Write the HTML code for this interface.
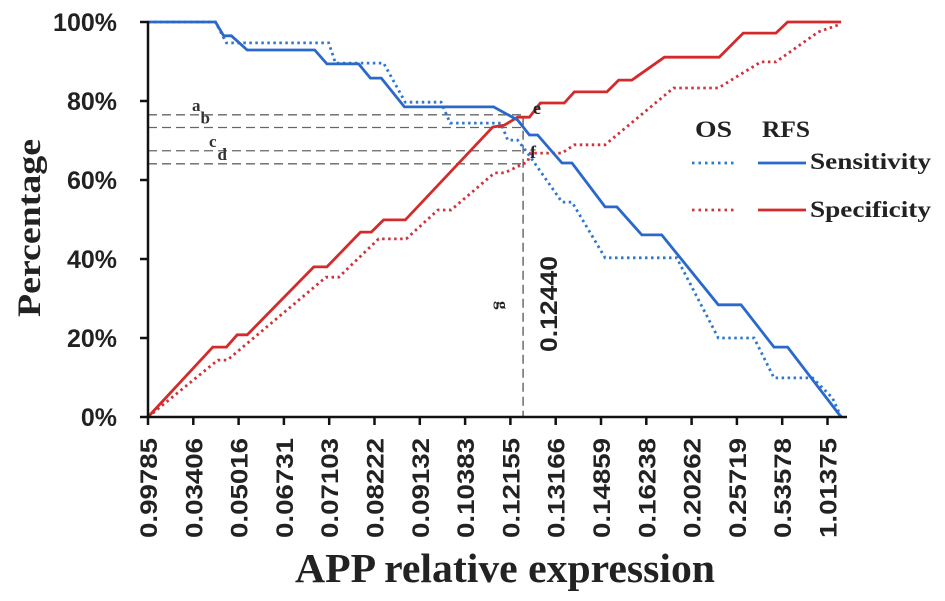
<!DOCTYPE html>
<html><head><meta charset="utf-8">
<style>
html,body{margin:0;padding:0;background:#fff;}
svg{display:block;}
</style></head>
<body>
<svg id="chart" width="945" height="601" viewBox="0 0 945 601" xmlns="http://www.w3.org/2000/svg">
  <g id="plot"></g>
</svg>
<script>
const categories = ["0.99785","0.03406","0.05016","0.06731","0.07103","0.08222","0.09132","0.10383","0.12155","0.13166","0.14859","0.16238","0.20262","0.25719","0.53578","1.01375"];
const yTicks = [0,20,40,60,80,100];
const rfsSensX = [0,1.49,1.67,1.84,2.19,3.68,3.95,4.65,4.91,5.15,5.66,7.63,8.16,8.42,8.60,9.14,9.36,10.09,10.35,10.90,11.34,12.59,13.09,13.82,14.12,15.3];
const rfsSensY = [100,100,96.5,96.5,92.9,92.9,89.4,89.4,85.8,85.8,78.5,78.5,75.2,71.4,71.4,64.3,64.3,53.2,53.2,46.1,46.1,28.4,28.4,17.7,17.7,0];
const osSensX = [0,1.49,1.73,3.99,4.14,5.20,5.68,6.47,6.67,7.79,7.94,8.16,8.38,9.14,9.36,10.09,11.67,12.59,13.38,13.82,14.67,15.11,15.3];
const osSensY = [100,100,94.7,94.7,89.6,89.6,79.7,79.7,74.4,74.4,70.1,70.1,66.8,54.4,54.4,40.3,40.3,20.0,20.0,9.9,9.9,4.8,0];
const rfsSpecX = [0,1.43,1.73,1.97,2.19,3.66,3.95,4.69,4.93,5.20,5.68,7.61,7.87,8.16,8.42,8.66,9.19,9.41,10.13,10.39,10.68,11.40,12.61,13.14,13.86,14.12,15.3];
const rfsSpecY = [0,17.7,17.7,20.8,20.8,38.0,38.0,46.8,46.8,49.9,49.9,73.4,73.9,75.9,75.9,79.5,79.5,82.3,82.3,85.3,85.3,91.1,91.1,97.2,97.2,100,100];
const osSpecX = [0,1.54,1.75,3.93,4.21,5.09,5.70,6.40,6.69,7.65,7.87,8.38,8.44,9.14,9.41,10.09,11.60,12.59,13.53,13.86,14.80,15.3];
const osSpecY = [0,14.4,14.4,35.4,35.4,45.1,45.1,52.4,52.4,61.8,61.8,64.6,66.8,66.8,68.9,68.9,83.3,83.3,89.9,89.9,97.5,99.5];
const refLabels = ["a","b","c","d"];
const refValues = [76.5,73.3,67.4,64.1];
const cutoffIndex = 8.28;

const X0=148, XSTEP=45.3, Y0=417, Y1=22;
function xs(i){return X0+i*XSTEP;}
function ys(v){return Y0-(v/100)*(Y0-Y1);}
const NS="http://www.w3.org/2000/svg";
const g=document.getElementById('plot');
function mk(tag,attrs){const e=document.createElementNS(NS,tag);for(const k in attrs)e.setAttribute(k,attrs[k]);g.appendChild(e);return e;}

refValues.forEach((v,i)=>{
  const l=mk('line',{x1:X0,x2:xs(cutoffIndex),y1:ys(v),y2:ys(v),stroke:'#666','stroke-width':1.3,'stroke-dasharray':'9,5'});
  
  
  const t=mk('text',{x:192+i*8.5,y:ys(v)-4,'font-family':'Liberation Serif, serif','font-weight':'bold','font-size':17,fill:'#333'});
  t.textContent=refLabels[i];
  
  
});
const vl=mk('line',{x1:xs(cutoffIndex),x2:xs(cutoffIndex),y1:ys(76),y2:Y0,stroke:'#555','stroke-width':1.3,'stroke-dasharray':'9,5'});



function series(xa,ya,color,dash,name){
  const d=xa.map((x,i)=>(i?'L':'M')+xs(x).toFixed(1)+','+ys(ya[i]).toFixed(1)).join(' ');
  const p=mk('path',{d:d,fill:'none',stroke:color,'stroke-width':2.8,'stroke-dasharray':dash?'2.5,3.5':'none'});
  
  
}
series(osSpecX,osSpecY,'#d0323c',true,'os-specificity-line');
series(osSensX,osSensY,'#2b78d0',true,'os-sensitivity-line');
series(rfsSpecX,rfsSpecY,'#d42a2a',false,'rfs-specificity-line');
series(rfsSensX,rfsSensY,'#2a68cc',false,'rfs-sensitivity-line');

const ya=mk('line',{x1:X0,x2:X0,y1:Y1-1,y2:Y0+1,stroke:'#111','stroke-width':2.5});


const xa=mk('line',{x1:X0-1,x2:847,y1:Y0,y2:Y0,stroke:'#111','stroke-width':2.5});


yTicks.forEach(v=>{
  const tk=mk('line',{x1:X0-8,x2:X0,y1:ys(v),y2:ys(v),stroke:'#111','stroke-width':2.5});
  
  
  const t=mk('text',{x:117,y:ys(v)+9,'text-anchor':'end','font-family':'Liberation Sans, sans-serif','font-weight':'bold','font-size':25,fill:'#222'});
  t.textContent=v+'%';
  
  
});
categories.forEach((c,i)=>{
  const tk=mk('line',{x1:xs(i),x2:xs(i),y1:Y0,y2:Y0+8,stroke:'#111','stroke-width':2.5});
  
  
  const t=mk('text',{x:0,y:0,'text-anchor':'end','font-family':'Liberation Sans, sans-serif','font-weight':'bold','font-size':24,fill:'#222',textLength:100,lengthAdjust:'spacingAndGlyphs',transform:'translate('+(xs(i)+9)+',438) rotate(-90)'});
  t.textContent=c;
  
  
});
</script>
<svg style="position:absolute;left:0;top:0" width="945" height="601" xmlns="http://www.w3.org/2000/svg">
  <text x="533" y="114" font-family="Liberation Serif, serif" font-weight="bold" font-size="18" fill="#222">e</text>
  <text x="530" y="158" font-family="Liberation Serif, serif" font-weight="bold" font-size="18" fill="#222">f</text>
  <text transform="translate(497,301) rotate(90)" font-family="Liberation Serif, serif" font-weight="bold" font-size="17" fill="#222">g</text>
  <text transform="translate(557,352) rotate(-90)" font-family="Liberation Sans, sans-serif" font-weight="bold" font-size="24" fill="#222" textLength="96" lengthAdjust="spacingAndGlyphs">0.12440</text>
  <text transform="translate(40,228) rotate(-90)" text-anchor="middle" font-family="Liberation Serif, serif" font-weight="bold" font-size="33" fill="#222" textLength="178" lengthAdjust="spacingAndGlyphs">Percentage</text>
  <text x="505" y="582" text-anchor="middle" font-family="Liberation Serif, serif" font-weight="bold" font-size="41" fill="#222" textLength="420" lengthAdjust="spacingAndGlyphs">APP relative expression</text>
  <g>
    <text x="695" y="137" font-family="Liberation Serif, serif" font-weight="bold" font-size="23" fill="#222" textLength="37" lengthAdjust="spacingAndGlyphs">OS</text>
    <text x="762" y="137" font-family="Liberation Serif, serif" font-weight="bold" font-size="23" fill="#222" textLength="48" lengthAdjust="spacingAndGlyphs">RFS</text>
    <line x1="692" x2="735" y1="163" y2="163" stroke="#2b78d0" stroke-width="2.8" stroke-dasharray="2.5,4"/>
    <line x1="758" x2="806" y1="163" y2="163" stroke="#2a68cc" stroke-width="2.8"/>
    <text x="810" y="169" font-family="Liberation Serif, serif" font-weight="bold" font-size="23" fill="#222" textLength="121" lengthAdjust="spacingAndGlyphs">Sensitivity</text>
    <line x1="692" x2="735" y1="210" y2="210" stroke="#d0323c" stroke-width="2.8" stroke-dasharray="2.5,4"/>
    <line x1="758" x2="806" y1="210" y2="210" stroke="#d42a2a" stroke-width="2.8"/>
    <text x="810" y="217" font-family="Liberation Serif, serif" font-weight="bold" font-size="23" fill="#222" textLength="121" lengthAdjust="spacingAndGlyphs">Specificity</text>
  </g>
</svg>
</body></html>
